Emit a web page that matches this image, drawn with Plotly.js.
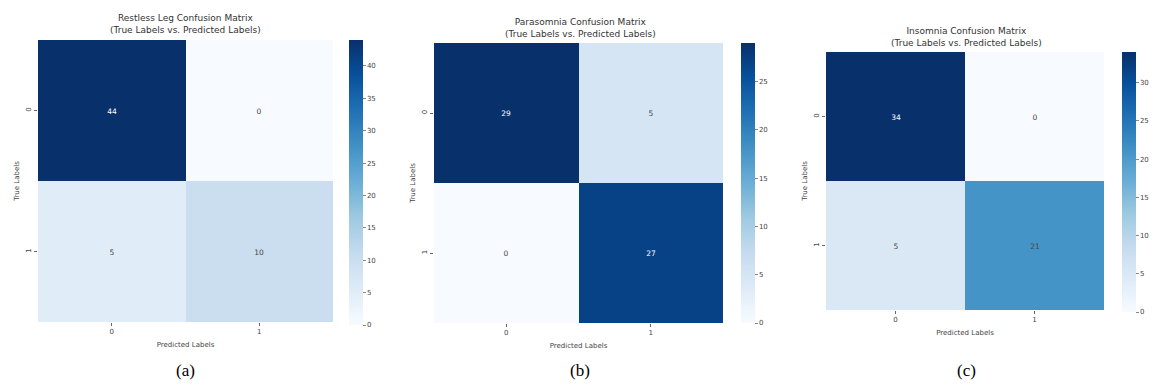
<!DOCTYPE html>
<html>
<head>
<meta charset="utf-8">
<script src="https://cdn.plot.ly/plotly-3.0.1.min.js"></script>
<style>html,body{margin:0;padding:0;background:#fff;}#chart{width:1156px;height:386px;}</style>
</head>
<body>
<div id="chart"></div>
<script>
// Data
const labels = ['0', '1'];
const titles = [
  'Restless Leg Confusion Matrix<br>(True Labels vs. Predicted Labels)',
  'Parasomnia Confusion Matrix<br>(True Labels vs. Predicted Labels)',
  'Insomnia Confusion Matrix<br>(True Labels vs. Predicted Labels)'
];
const captions = ['(a)', '(b)', '(c)'];
const restlessLeg = [[44, 0], [5, 10]];
const parasomnia = [[29, 5], [0, 27]];
const insomnia = [[34, 0], [5, 21]];
const matrices = [restlessLeg, parasomnia, insomnia];
const cbTicks = [
  [0, 5, 10, 15, 20, 25, 30, 35, 40],
  [0, 5, 10, 15, 20, 25],
  [0, 5, 10, 15, 20, 25, 30]
];

const blues = [
  [0, '#f7fbff'], [0.125, '#deebf7'], [0.25, '#c6dbef'], [0.375, '#9ecae1'],
  [0.5, '#6baed6'], [0.625, '#4292c6'], [0.75, '#2171b5'], [0.875, '#08519c'], [1, '#08306b']
];

const W = 1156, H = 386;
// pixel layout per panel
const panels = [
  {x0: 38, x1: 333, y0: 40, y1: 322, cbx: 349, cby0: 40, cby1: 325, tx: 185, ty: 24},
  {x0: 434, x1: 723, y0: 43, y1: 323, cbx: 741, cby0: 43, cby1: 323, tx: 580, ty: 28},
  {x0: 826, x1: 1104, y0: 52, y1: 310, cbx: 1122, cby0: 52, cby1: 312, tx: 966, ty: 37}
];
const fx = p => p / W;
const fy = p => (H - p) / H;

const fam = 'DejaVu Sans, sans-serif';
const data = [];
const layout = {
  width: W, height: H,
  margin: {l: 0, r: 0, t: 0, b: 0},
  paper_bgcolor: '#fff', plot_bgcolor: '#fff',
  showlegend: false,
  annotations: []
};

matrices.forEach((z, i) => {
  const p = panels[i];
  const sfx = i === 0 ? '' : String(i + 1);
  const zmax = Math.max(...z.flat());
  data.push({
    type: 'heatmap',
    z: z, x: labels, y: labels,
    xaxis: 'x' + sfx, yaxis: 'y' + sfx,
    colorscale: blues, zmin: 0, zmax: zmax,
    xgap: 0, ygap: 0,
    texttemplate: '%{z}',
    textfont: {size: 7.5, family: fam},
    hoverinfo: 'skip',
    colorbar: {
      x: fx(p.cbx), xanchor: 'left',
      y: fy((p.cby0 + p.cby1) / 2), yanchor: 'middle',
      len: (p.cby1 - p.cby0) / H, lenmode: 'fraction',
      thickness: 14, outlinewidth: 0, xpad: 0, ypad: 0,
      tickvals: cbTicks[i], ticks: 'outside', ticklen: 3, tickcolor: '#888',
      tickfont: {size: 7, family: fam, color: '#444'}
    }
  });
  layout['xaxis' + sfx] = {
    domain: [fx(p.x0), fx(p.x1)], anchor: 'y' + sfx,
    type: 'category', showgrid: false, zeroline: false, showline: false,
    ticks: 'outside', ticklen: 3, tickcolor: '#666',
    tickfont: {size: 7, family: fam, color: '#444'},
    title: {text: 'Predicted Labels', font: {size: 7, family: fam, color: '#444'}, standoff: 6}
  };
  layout['yaxis' + sfx] = {
    domain: [fy(p.y1), fy(p.y0)], anchor: 'x' + sfx,
    type: 'category', autorange: 'reversed', showgrid: false, zeroline: false, showline: false,
    ticks: 'outside', ticklen: 3, tickcolor: '#666', tickangle: -90,
    tickfont: {size: 7, family: fam, color: '#444'},
    title: {text: 'True Labels', font: {size: 7, family: fam, color: '#444'}, standoff: 4}
  };
  layout.annotations.push({
    text: titles[i], xref: 'paper', yref: 'paper',
    x: fx(p.tx), y: fy(p.ty), xanchor: 'center', yanchor: 'middle',
    showarrow: false, font: {size: 9, family: fam, color: '#333'}
  });
  layout.annotations.push({
    text: captions[i], xref: 'paper', yref: 'paper',
    x: fx(p.tx), y: fy(370), xanchor: 'center', yanchor: 'middle',
    showarrow: false, font: {size: 17, family: 'Liberation Serif, Times New Roman, serif', color: '#000'}
  });
});

Plotly.newPlot('chart', data, layout, {staticPlot: true, displayModeBar: false});
</script>
</body>
</html>
